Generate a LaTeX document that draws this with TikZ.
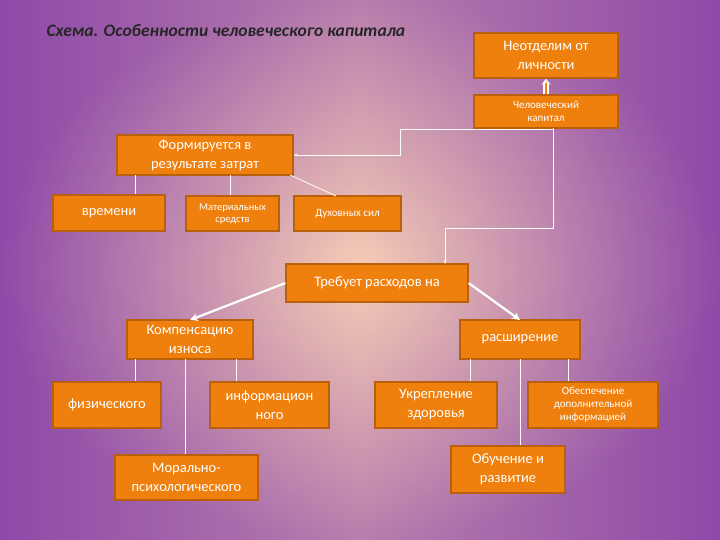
\documentclass[tikz,border=0pt]{standalone}
\usepackage{fontspec}
\setmainfont{Carlito}
\usetikzlibrary{arrows.meta}
\definecolor{bxo}{HTML}{F0800E}
\definecolor{bxb}{HTML}{B8600C}
\definecolor{purp}{HTML}{8E4AA8}
\definecolor{peach}{HTML}{F6CDB5}
\tikzset{
 bx/.style={draw=bxb,line width=1.2pt,fill=bxo,text=white,align=center,inner sep=1pt,font=\fontsize{14.5}{19}\selectfont},
 sm/.style={font=\fontsize{11}{13}\selectfont},
 ln/.style={draw=white!95!peach,line width=0.8pt},
 tk/.style={draw=white,line width=2.2pt,-{Stealth[length=8pt,width=8pt]}}
}
\newcommand{\bxat}[6]{\node[bx,minimum width=#4-#2,minimum height=#5-#3,#6] (#1) at ({(#2+#4)/2},{(#3+#5)/2})}
\begin{document}
\begin{tikzpicture}[x=1pt,y=-1pt]
\shade[inner color=peach,outer color=purp] (0,0) rectangle (720,540);
\shade[left color=purp,right color=purp,middle color=peach,opacity=0.4] (0,0) rectangle (720,540);
\useasboundingbox (0,0) rectangle (720,540);
\node[anchor=west,font=\bfseries\itshape\fontsize{17.5}{20}\selectfont,text=black!85] (title) at (43,31) {Схема. Особенности человеческого капитала};
\bxat{neo}{474}{33}{618}{78}{}{Неотделим от\\личности};
\bxat{chk}{474}{95}{618}{128}{sm}{Человеческий\\капитал};
\bxat{form}{117}{135}{293}{175}{}{Формируется в\\результате затрат};
\bxat{vrem}{53}{195}{165}{231}{}{времени};
\bxat{mat}{186}{196}{279}{231}{font=\fontsize{10.5}{12}\selectfont}{Материальных\\средств};
\bxat{duh}{294}{196}{401}{231}{sm}{Духовных сил};
\bxat{treb}{286}{264}{468}{302}{}{Требует расходов на};
\bxat{komp}{127}{320}{253}{359}{}{Компенсацию\\износа};
\bxat{rasш}{460}{320}{580}{359}{}{расширение};
\bxat{fiz}{53}{382}{161}{428}{}{физического};
\bxat{inf}{210}{382}{329}{428}{}{информацион\\ного};
\bxat{ukr}{375}{382}{497}{428}{}{Укрепление\\здоровья};
\bxat{obe}{528}{382}{658}{428}{sm}{Обеспечение\\дополнительной\\информацией};
\bxat{mor}{115}{455}{258}{500}{}{Морально-\\психологического};
\bxat{obu}{451}{446}{565}{493}{}{Обучение и\\развитие};
% arrows
\draw[draw=white,line width=1.5pt,double=bxo,double distance=2.5pt,-{Stealth[length=6pt,width=9pt,open,fill=bxo]}] (chk.north) -- (neo.south);
\draw[ln,-{Stealth[length=4pt]}] (553,128) |- (400,129) |- (form.east);
\draw[ln,-{Stealth[length=4pt]}] (553,128) -- (553,228) -| (445,264);
\draw[ln] (135,175) -- (vrem.north -| 135,0);
\draw[ln] (230,175) -- (mat.north -| 230,0);
\draw[ln] (290,175) -- (336,196);
\draw[tk] (treb.west) -- (190,320);
\draw[tk] (treb.east) -- (520,320);
\draw[ln] (135,359) -- (fiz.north -| 135,0);
\draw[ln] (185,359) -- (mor.north -| 185,0);
\draw[ln] (236,359) -- (inf.north -| 236,0);
\draw[ln] (470,359) -- (ukr.north -| 470,0);
\draw[ln] (520,359) -- (obu.north -| 520,0);
\draw[ln] (568,359) -- (obe.north -| 568,0);
\end{tikzpicture}
\end{document}
